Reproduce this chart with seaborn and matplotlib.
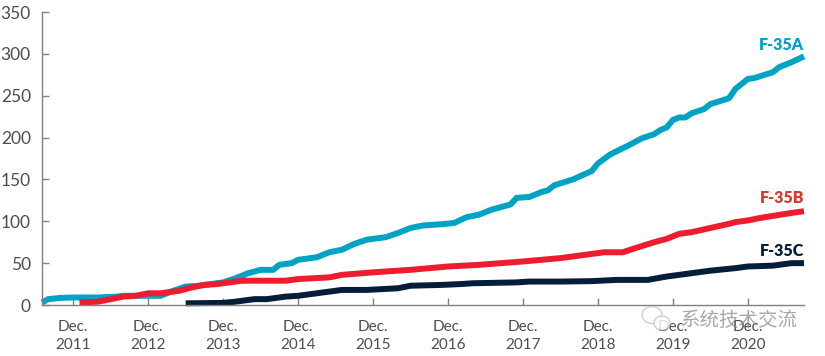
import matplotlib
matplotlib.use('Agg')
import matplotlib.pyplot as plt
from matplotlib.patches import Ellipse
import pandas as pd
import seaborn as sns

# months counted from Dec. 2011
a_months = [-5, -4, -2, 0, 4, 7, 8, 12, 14, 16, 18, 20, 23, 24, 26, 28, 30, 32, 33, 35, 36, 39, 40, 41, 43, 45, 47, 50,
            52, 54, 56, 59, 61, 63, 65, 67, 70, 71, 73, 75, 76, 77, 80, 83, 84, 86, 89, 91, 93, 94, 95, 96, 97, 98,
            99, 101, 102, 105, 106, 108, 109, 112, 113, 115, 117]
a_values = [3, 7, 8.5, 9, 9, 10, 11, 11, 11, 17, 22, 23, 26, 27, 32, 38, 42, 42, 48, 50, 54, 57, 60, 63, 66, 73, 78, 81,
            86, 92, 95, 96.5, 98, 105, 108, 114, 120, 128, 129, 135, 137, 143, 150, 160, 169, 180, 191, 199, 204, 209,
            212, 221, 224, 224, 229, 234, 240, 247, 258, 270, 271, 278, 284, 290, 297]

b_months = [1, 4, 8, 10, 12, 14, 17, 19, 21, 23, 25, 27, 34, 36, 41, 43, 48, 54, 60, 65, 72, 78, 82, 85, 88, 90, 93, 95,
            97, 99, 102, 105, 106, 108, 110, 115, 117]
b_values = [3, 4, 10, 11, 14, 14, 17, 21, 24, 25, 27, 29, 29, 31, 33, 36, 39, 42, 46, 48, 52, 56, 60, 63, 63, 68, 75, 79,
            85, 87, 92, 97, 99, 101, 104, 110, 112]

c_months = [18, 24, 26, 29, 31, 34, 36, 39, 42, 43, 47, 52, 54, 59, 62, 64, 71, 73, 78, 83, 87, 92, 95, 98, 102, 106,
            108, 112, 115, 117]
c_values = [2, 2.5, 4, 7, 7, 10, 11, 14, 17, 18, 18, 20, 23, 24, 25, 26, 27, 28, 28, 28.5, 30, 30, 34, 37, 41, 44,
            46, 47, 50, 50]

tick_months = [0, 12, 24, 36, 48, 60, 72, 84, 96, 108]
tick_labels = ['Dec.\n2011', 'Dec.\n2012', 'Dec.\n2013', 'Dec.\n2014', 'Dec.\n2015',
               'Dec.\n2016', 'Dec.\n2017', 'Dec.\n2018', 'Dec.\n2019', 'Dec.\n2020']
y_ticks = [0, 50, 100, 150, 200, 250, 300, 350]

palette = {'F-35A': '#00a3c4', 'F-35B': '#ed1c2e', 'F-35C': '#041e3a'}

data = pd.concat([
    pd.DataFrame({'month': a_months, 'count': a_values, 'model': 'F-35A'}),
    pd.DataFrame({'month': b_months, 'count': b_values, 'model': 'F-35B'}),
    pd.DataFrame({'month': c_months, 'count': c_values, 'model': 'F-35C'}),
])

sns.set_theme(style='ticks')
plt.rcParams['font.family'] = ['Lato', 'Noto Sans CJK SC', 'DejaVu Sans']

fig = plt.figure(figsize=(8.25, 3.56), dpi=100)
ax = fig.add_axes([42 / 825, 1 - 305 / 356, (804 - 42) / 825, (305 - 12) / 356])

sns.lineplot(data=data, x='month', y='count', hue='model', palette=palette, linewidth=4.3,
             legend=False, ax=ax, solid_capstyle='butt', solid_joinstyle='round', clip_on=False)

ax.set_xlim(-5, 117)
ax.set_ylim(0, 350)
ax.set_xticks(tick_months)
ax.set_xticklabels(tick_labels)
ax.set_yticks(y_ticks)
ax.set_xlabel('')
ax.set_ylabel('')
ax.tick_params(axis='x', direction='in', length=5, width=1, color='#808080', labelcolor='#4d4d4d',
               labelsize=11, pad=11)
ax.tick_params(axis='y', direction='in', length=5, width=1, color='#808080', labelcolor='#4d4d4d',
               labelsize=12.5, pad=8)
for label in ax.get_xticklabels():
    label.set_linespacing(1.3)

sns.despine(ax=ax)
for side in ['left', 'bottom']:
    ax.spines[side].set_color('#808080')
    ax.spines[side].set_linewidth(1)

ax.text(117, 311, 'F-35A', color='#00a3c4', fontsize=11.5, fontweight='heavy', ha='right', va='center')
ax.text(117, 128, 'F-35B', color='#d8392b', fontsize=11.5, fontweight='heavy', ha='right', va='center')
ax.text(117, 65, 'F-35C', color='#041e3a', fontsize=11.5, fontweight='heavy', ha='right', va='center')

# watermark over the last tick labels
for cx, cy, w, h in [(652, 315, 20, 17), (662, 323, 16, 14)]:
    fig.add_artist(Ellipse((cx / 825, 1 - cy / 356), w / 825, h / 356, transform=fig.transFigure,
                           facecolor='white', edgecolor='#c4c4c4', linewidth=1, alpha=0.8))
fig.text(739 / 825, 1 - 320 / 356, '系统技术交流', color='#8a8a8a', alpha=0.75, fontsize=14,
         ha='center', va='center')

fig.savefig('out.png', dpi=100)
